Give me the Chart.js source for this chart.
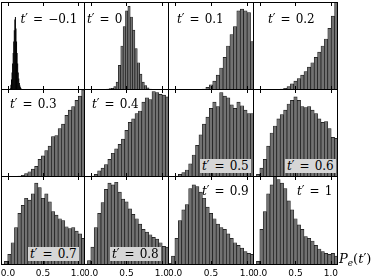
<!DOCTYPE html>
<html><head><meta charset="utf-8">
<script src="https://cdn.jsdelivr.net/npm/chart.js@4.4.1/dist/chart.umd.min.js"></script>
<style>
html,body{margin:0;padding:0;background:#fff;}
#wrap{position:relative;width:374px;height:277px;overflow:hidden;background:#fff;}
canvas{position:absolute;}
.lab{position:absolute;font-family:"DejaVu Serif",serif;font-size:12px;line-height:12px;white-space:nowrap;color:#000;}
.lab i{font-style:italic;}
.lab .eq{margin:0 5px;}
.box{background:#d6d6d6;padding:1px 2px;}
.pe{position:absolute;font-family:"DejaVu Serif",serif;font-size:13px;line-height:13px;white-space:nowrap;color:#000;}
.pe i{font-style:italic;}
.pe sub{font-size:9px;vertical-align:-3px;line-height:0;}
</style></head><body><div id="wrap"></div>
<script>
// ---- data ----
const panelNames = ["\u22120.1","0","0.1","0.2","0.3","0.4","0.5","0.6","0.7","0.8","0.9","1"];
const xRange = [-0.1, 1.1];
const xTicks = [0.0, 0.5, 1.0];
const binStartWide = -0.1, binWidthWide = 0.048;
const binStartM01 = 0.03, binWidthM01 = 0.008;
const binStart0 = 0.186, binWidth0 = 0.0333;

const countsM01 = [0.02,0.06,0.12,0.2,0.3,0.42,0.55,0.68,0.8,0.83,0.7,0.55,0.42,0.3,0.2,0.13,0.08,0.05,0.03,0.02,0.01,0.005];
const counts0   = [0.005,0.01,0.015,0.02,0.04,0.09,0.28,0.5,0.72,0.9,0.95,0.83,0.68,0.47,0.31,0.18,0.09,0.05,0.025,0.01];
const counts01  = [0,0,0,0,0,0,0,0,0,0.005,0.01,0.03,0.06,0.1,0.17,0.25,0.37,0.5,0.63,0.72,0.9,0.92,0.9,0.88,0.55];
const counts02  = [0,0,0,0,0,0,0,0.005,0.01,0.02,0.04,0.07,0.1,0.13,0.17,0.21,0.26,0.31,0.37,0.43,0.5,0.58,0.7,0.84,1.0];
const counts03  = [0,0,0,0,0.003,0.01,0.02,0.04,0.06,0.09,0.12,0.2,0.24,0.3,0.35,0.46,0.47,0.55,0.6,0.7,0.76,0.8,0.87,0.92,0.99];
const counts04  = [0,0.005,0.01,0.03,0.07,0.1,0.14,0.2,0.27,0.32,0.37,0.43,0.53,0.62,0.66,0.72,0.75,0.85,0.9,0.88,0.97,0.96,0.94,0.93,0.91];
const counts05  = [0,0.005,0.01,0.03,0.05,0.08,0.15,0.25,0.36,0.48,0.6,0.68,0.78,0.85,0.8,0.96,0.92,0.9,0.82,0.78,0.85,0.81,0.76,0.72,0.72];
const counts06  = [0.005,0.03,0.1,0.2,0.35,0.5,0.58,0.66,0.71,0.76,0.83,0.87,0.91,0.87,0.8,0.79,0.8,0.76,0.72,0.66,0.62,0.63,0.55,0.45,0.44];
const counts07  = [0.01,0.04,0.12,0.25,0.42,0.58,0.67,0.75,0.73,0.8,0.92,0.87,0.75,0.8,0.71,0.6,0.56,0.52,0.5,0.43,0.41,0.42,0.38,0.35,0.3];
const counts08  = [0.01,0.05,0.2,0.42,0.58,0.7,0.85,0.92,0.9,0.93,0.82,0.74,0.71,0.63,0.57,0.52,0.46,0.4,0.37,0.34,0.31,0.29,0.25,0.21,0.2];
const counts09  = [0.02,0.1,0.3,0.5,0.62,0.68,0.86,0.9,0.88,0.82,0.75,0.65,0.58,0.52,0.46,0.42,0.4,0.35,0.3,0.25,0.22,0.19,0.15,0.13,0.12];
const counts1   = [0,0.04,0.4,0.6,0.8,0.9,1.0,0.96,0.92,0.86,0.72,0.62,0.52,0.45,0.4,0.32,0.3,0.27,0.22,0.18,0.15,0.13,0.12,0.13,0.1];

// ---- layout / style ----
const cols = [{l:1,w:84},{l:84,w:85},{l:168,w:86},{l:253,w:85}];
const rows = [{t:2,h:88},{t:89,h:88},{t:176,h:89}];
const labelH = 13;
const panels = [
  {c:countsM01, s:binStartM01, w:binWidthM01, fill:'#000', bw:0, bp:1.8},
  {c:counts0, s:binStart0, w:binWidth0},
  {c:counts01, s:binStartWide, w:binWidthWide},
  {c:counts02, s:binStartWide, w:binWidthWide},
  {c:counts03, s:binStartWide, w:binWidthWide},
  {c:counts04, s:binStartWide, w:binWidthWide},
  {c:counts05, s:binStartWide, w:binWidthWide},
  {c:counts06, s:binStartWide, w:binWidthWide},
  {c:counts07, s:binStartWide, w:binWidthWide},
  {c:counts08, s:binStartWide, w:binWidthWide},
  {c:counts09, s:binStartWide, w:binWidthWide},
  {c:counts1, s:binStartWide, w:binWidthWide}
];
// label placement: left x, baseline y, boxed
const labelPos = [
  [20.5,23,false],[87,23,false],[177,23,false],[268,23,false],
  [10,108,false],[92,108,false],[200,170,true],[285,170,true],
  [28,258,true],[110,258,true],[202,195,false],[297,195,false]
];

const framePlugin = {
  id:'frame',
  beforeDraw(chart){
    const ctx = chart.ctx; ctx.save(); ctx.fillStyle='#fff';
    ctx.fillRect(0,0,chart.width,chart.height); ctx.restore();
  },
  afterDraw(chart){
    const {ctx, chartArea:a, scales:{x}} = chart;
    ctx.save(); ctx.strokeStyle='#000'; ctx.lineWidth=1;
    ctx.beginPath();
    for (const v of xTicks){
      const px = Math.round(x.getPixelForValue(v)) + 0.5;
      ctx.moveTo(px, a.bottom); ctx.lineTo(px, a.bottom-4);
      ctx.moveTo(px, a.top); ctx.lineTo(px, a.top+4);
    }
    ctx.stroke();
    ctx.strokeRect(a.left+0.5, a.top+0.5, a.right-a.left-1, a.bottom-a.top-1);
    ctx.restore();
  }
};

const wrap = document.getElementById('wrap');
panels.forEach((p, k) => {
  const r = Math.floor(k/4), cI = k%4;
  const isBottom = r === 2;
  const cv = document.createElement('canvas');
  const W = cols[cI].w, H = rows[r].h + (isBottom ? labelH : 0);
  cv.width = W; cv.height = H;
  cv.style.left = cols[cI].l + 'px'; cv.style.top = rows[r].t + 'px';
  cv.style.width = W + 'px'; cv.style.height = H + 'px';
  wrap.appendChild(cv);
  const data = p.c.map((v,i) => ({x: p.s + p.w*(i+0.5), y: v}));
  new Chart(cv, {
    type:'bar',
    data:{datasets:[{data, backgroundColor: p.fill || '#727272', borderColor:'#151515',
      borderWidth: (p.bw !== undefined ? p.bw : 0.7), borderSkipped:'bottom',
      barPercentage: p.bp || 1, categoryPercentage:1}]},
    options:{
      responsive:false, animation:false, devicePixelRatio:1, events:[],
      layout:{padding:0},
      plugins:{legend:{display:false}, tooltip:{enabled:false}},
      scales:{
        x:{type:'linear', min:xRange[0], max:xRange[1], display:isBottom, offset:false,
          afterBuildTicks: s => { s.ticks = xTicks.map(v => ({value:v})); },
          afterFit: s => { if (isBottom) s.height = labelH; s.paddingLeft = 0; s.paddingRight = 0; },
          grid:{display:false, drawTicks:false}, border:{display:false},
          ticks:{font:{family:'DejaVu Sans', size:9}, color:'#000', padding:3,
            maxRotation:0, autoSkip:false, callback: v => Number(v).toFixed(1)}},
        y:{display:false, min:0, max:1}
      }
    },
    plugins:[framePlugin]
  });
});

panelNames.forEach((n, k) => {
  const [lx, by, boxed] = labelPos[k];
  const d = document.createElement('div');
  d.className = 'lab' + (boxed ? ' box' : '');
  d.innerHTML = '<i>t</i>\u2032<span class="eq">=</span>' + n;
  d.style.left = lx + 'px';
  d.style.top = (by - (boxed ? 11 : 10)) + 'px';
  wrap.appendChild(d);
});
const pe = document.createElement('div');
pe.className = 'pe';
pe.innerHTML = '<i>P</i><sub><i>e</i></sub>(<i>t</i>\u2032)';
pe.style.left = '339px'; pe.style.top = '252px';
wrap.appendChild(pe);
</script></body></html>
